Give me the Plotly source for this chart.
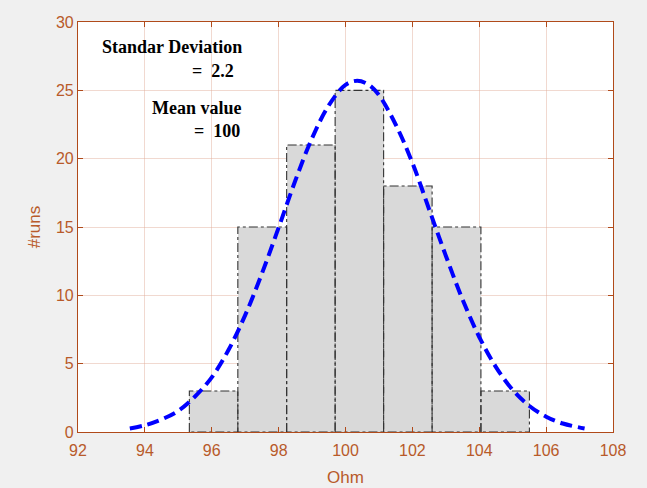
import plotly.graph_objects as go

# Histogram data
bin_edges = [95.33, 96.78, 98.24, 99.69, 101.14, 102.59, 104.05, 105.50]
counts = [3, 15, 21, 25, 18, 15, 3]

# Fitted normal curve
curve_x = [93.55, 94.0, 94.5, 95.0, 95.5, 96.0, 96.5, 97.0, 97.5, 98.0, 98.5, 99.0, 99.5,
           100.0, 100.35, 100.7, 101.0, 101.5, 102.0, 102.5, 103.0, 103.5, 104.0, 104.5,
           105.0, 105.5, 106.0, 106.5, 107.15]
curve_y = [0.26, 0.49, 0.92, 1.55, 2.6, 4.0, 6.0, 8.55, 11.6, 14.95, 18.4, 21.5, 23.9,
           25.4, 25.7, 25.4, 24.65, 22.5, 19.7, 16.3, 12.9, 9.7, 6.95, 4.75,
           3.08, 1.9, 1.12, 0.62, 0.26]

x_ticks = [92, 94, 96, 98, 100, 102, 104, 106, 108]
y_ticks = [0, 5, 10, 15, 20, 25, 30]

axis_color = "#b04a1a"
label_color = "#b85a2a"
grid_color = "rgba(225,170,150,0.45)"

centers = [(bin_edges[i] + bin_edges[i + 1]) / 2 for i in range(len(counts))]
widths = [bin_edges[i + 1] - bin_edges[i] for i in range(len(counts))]

fig = go.Figure()
fig.add_trace(go.Bar(x=centers, y=counts, width=widths,
                     marker=dict(color="#d9d9d9", line=dict(width=0)),
                     showlegend=False, hoverinfo="skip"))

ox, oy = [], []
for i, h in enumerate(counts):
    l, r = bin_edges[i], bin_edges[i + 1]
    ox += [l, l, r, r, l, None]
    oy += [0, h, h, 0, 0, None]
fig.add_trace(go.Scatter(x=ox, y=oy, mode="lines",
                         line=dict(color="#333333", width=1.1, dash="dashdot"),
                         showlegend=False, hoverinfo="skip"))

fig.add_trace(go.Scatter(x=curve_x, y=curve_y, mode="lines", line_shape="spline",
                         line=dict(color="#0000ff", width=4, dash="12px,6px"),
                         showlegend=False))

tfont = dict(family="Liberation Serif", size=18, color="black")
ann = [
    ("<b>Standar Deviation</b>", 96.95, 28.17),
    ("<b>=  2.2</b>", 96.74, 26.4),
    ("<b>Mean value</b>", 96.95, 23.7),
    ("<b>=  100</b>", 96.9, 22.0),
]
for t, x, y in ann:
    fig.add_annotation(x=x, y=y, text=t, showarrow=False, xanchor="right",
                       yanchor="middle", font=tfont)

fig.update_layout(
    width=647, height=488,
    margin=dict(l=78, r=34, t=22, b=56),
    paper_bgcolor="#f0f0f0", plot_bgcolor="white",
    bargap=0,
    font=dict(family="Liberation Sans", color=label_color, size=16),
    xaxis=dict(range=[92, 108], tickvals=x_ticks, showgrid=True, gridcolor=grid_color,
               showline=True, linecolor=axis_color, linewidth=1.2, mirror="ticks",
               ticks="inside", ticklen=5, tickcolor=axis_color, zeroline=False,
               ticklabelstandoff=4, automargin=False,
               title=dict(text="Ohm", font=dict(size=17, color=label_color), standoff=12),
               tickfont=dict(size=16, color=label_color)),
    yaxis=dict(range=[0, 30], tickvals=y_ticks, showgrid=True, gridcolor=grid_color,
               showline=True, linecolor=axis_color, linewidth=1.2, mirror="ticks",
               ticks="inside", ticklen=5, tickcolor=axis_color, zeroline=False,
               automargin=False,
               title=dict(text="#runs", font=dict(size=17, color=label_color), standoff=10),
               tickfont=dict(size=16, color=label_color)),
)

fig.write_html("out.html", config={"displayModeBar": False},
               post_script="document.body.style.margin='0';document.body.style.background='#f0f0f0';")
